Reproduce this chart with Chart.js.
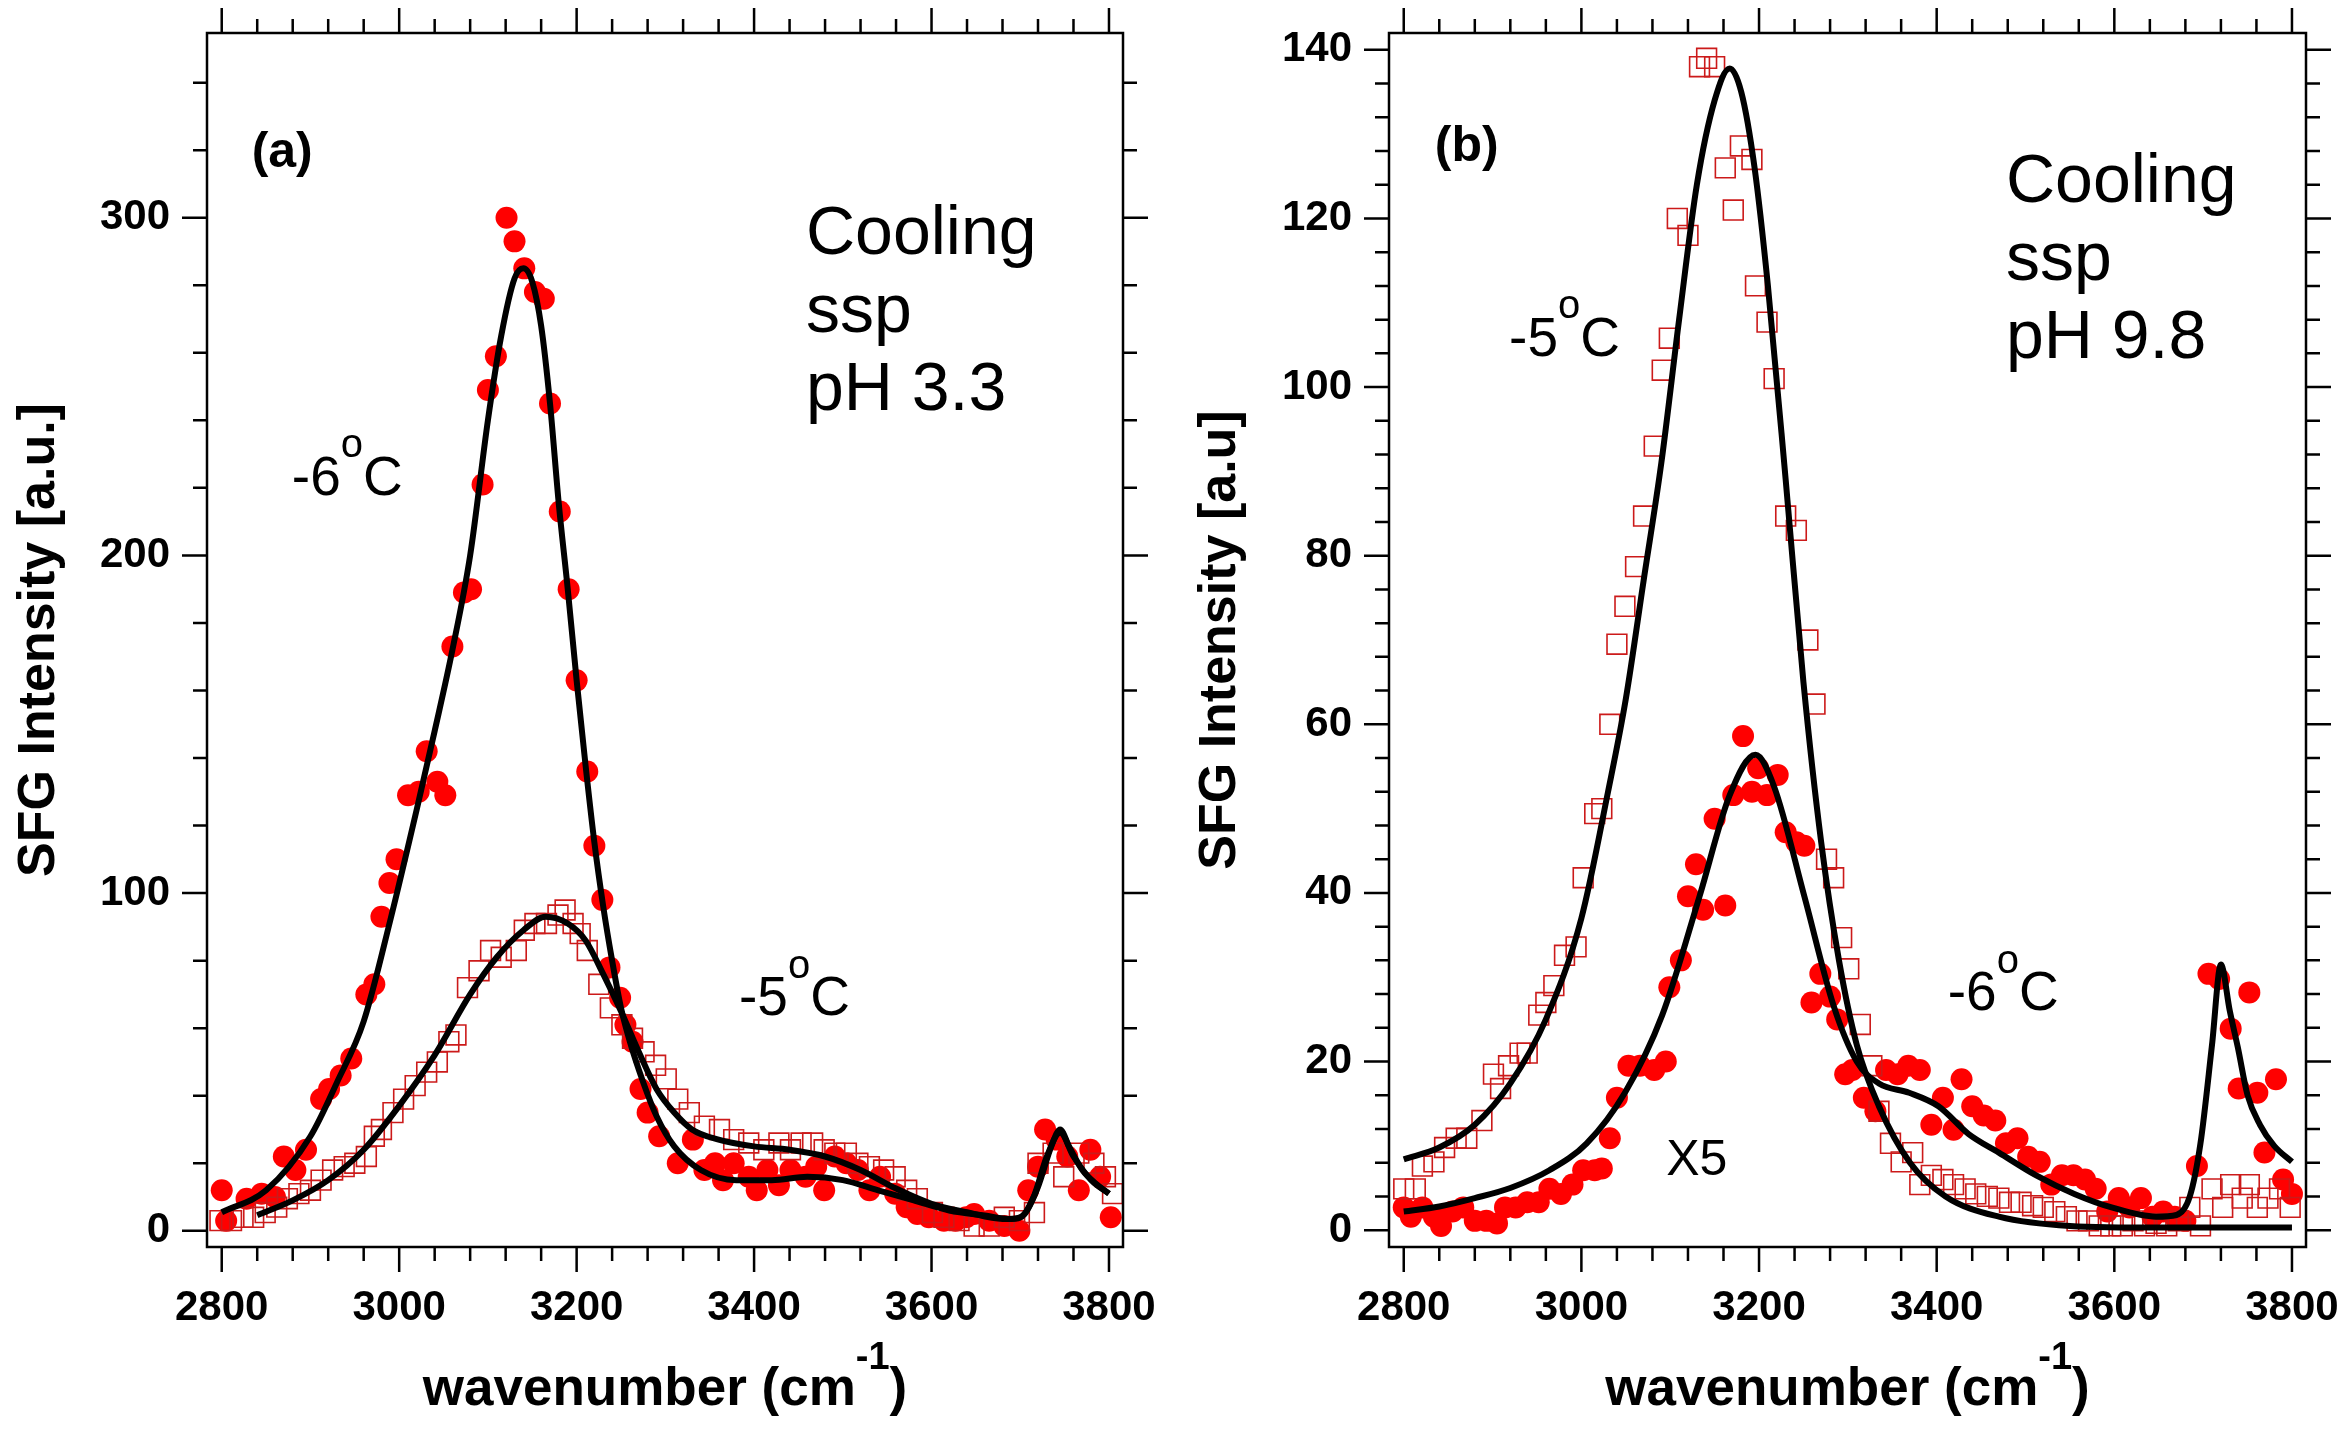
<!DOCTYPE html>
<html>
<head>
<meta charset="utf-8">
<title>SFG spectra on cooling</title>
<script src="https://cdn.jsdelivr.net/npm/chart.js@4.4.1/dist/chart.umd.min.js"></script>
<style>
  html, body { margin: 0; padding: 0; background: #fff; }
  #wrap { position: relative; width: 2348px; height: 1433px; }
  canvas { position: absolute; top: 0; }
  #chartA { left: 0; }
  #chartB { left: 1175px; }
</style>
</head>
<body>
<div id="wrap">
  <canvas id="chartA" width="1175" height="1433"></canvas>
  <canvas id="chartB" width="1173" height="1433"></canvas>
</div>
<script>
// tick labels
const xTicks = [2800, 3000, 3200, 3400, 3600, 3800];
const yTicksA = [0, 100, 200, 300];
const yTicksB = [0, 20, 40, 60, 80, 100, 120, 140];

// (a) pH 3.3 : -6C filled circles, -5C open squares, [wavenumber, intensity]
const a6Points = [
  [2800,12],[2805,3],[2828,9.5],[2845,11],[2860,10],[2870,22],[2883,18],[2895,24],[2912,39],[2921,42],
  [2934,46],[2946,51],[2963,70],[2972,73],[2980,93],[2989,103],[2997,110],[3010,129],[3022,130],[3031,142],
  [3043,133],[3052,129],[3060,173],[3073,189],[3081,190],[3094,221],[3100,249],[3109,259],[3121,300],[3130,293],
  [3141,285],[3153,278],[3163,276],[3170,245],[3181,213],[3191,190],[3200,163],[3212,136],[3220,114],[3229,98],
  [3237,78],[3249,69],[3255,61],[3263,56],[3272,42],[3280,35],[3293,28],[3314,20],[3331,27],[3344,18],
  [3356,20],[3365,15],[3377,20],[3394,16],[3403,12],[3415,18],[3428,13.5],[3441,18],[3458,16],[3470,19],
  [3479,12],[3491,22],[3504,20],[3517,18],[3530,12],[3542,16],[3559,11],[3572,7],[3584,5],[3597,4],
  [3614,3],[3627,3],[3639,4],[3648,5],[3665,3],[3682,1.4],[3699,0],[3709,12],[3720,19],[3728,30],
  [3741,27],[3753,22],[3766,12],[3779,24],[3790,16],[3802,4]
];
const a5Points = [
  [2798,3],[2811,3],[2824,4],[2836,4],[2849,5.4],[2862,7],[2874,9.5],[2887,11],[2900,12],[2912,15],
  [2925,18],[2938,19],[2950,20],[2963,22],[2972,28],[2980,30],[2993,35],[3005,39],[3018,43],[3031,47],
  [3043,50],[3056,56],[3064,58],[3077,72],[3090,77],[3103,83],[3115,81],[3132,83],[3141,89],[3153,91],
  [3166,91],[3179,93.5],[3187,95],[3196,91],[3204,88],[3212,83],[3225,73],[3238,66],[3251,61],[3263,57],
  [3276,53],[3289,49],[3301,45],[3314,39],[3327,35],[3344,31],[3361,30],[3377,27],[3394,26],[3411,24],
  [3428,26],[3441,24],[3453,26],[3466,26],[3479,24],[3491,23],[3504,23],[3517,20],[3530,19],[3546,18],
  [3559,16],[3572,12],[3584,9.5],[3601,5.4],[3614,4],[3631,3],[3648,1.4],[3665,1.4],[3682,4],[3699,3],
  [3716,5.4],[3720,20],[3737,23],[3749,16],[3766,23],[3783,20],[3796,16],[3804,11]
];
const a6Fit = [
  [2800,5.5],[2850,12],[2900,28],[2930,44],[2960,62],[2990,92],[3020,125],[3040,148],[3060,172],[3080,200],
  [3100,240],[3115,265],[3130,282],[3140,285],[3150,281],[3160,268],[3170,245],[3180,215],[3190,190],[3200,163],
  [3210,138],[3220,115],[3230,96],[3240,80],[3250,66],[3260,56],[3275,44],[3290,34],[3310,25],[3340,18],
  [3380,15],[3420,15],[3460,16],[3500,15],[3540,12],[3580,9],[3620,6],[3660,4.5],[3690,3.5],[3705,5],
  [3720,13],[3735,25],[3745,30],[3755,25],[3770,18],[3785,14],[3800,11]
];
const a5Fit = [
  [2840,4.6],[2880,9],[2920,15],[2960,24],[3000,37],[3040,52],[3080,70],[3110,81],[3140,89],[3165,93],
  [3190,91],[3210,86],[3230,76],[3250,65],[3270,53],[3290,42],[3310,35],[3330,30],[3360,27],[3400,25],
  [3440,24],[3480,22],[3520,18],[3560,12.5],[3600,8],[3640,5.5],[3680,3.5],[3700,4],[3715,10],[3730,22],
  [3745,29],[3760,22],[3780,15],[3800,11]
];

// (b) pH 9.8 : -5C open squares, -6C filled circles (x5)
const b5Points = [
  [2800,4.9],[2813,4.9],[2821,7.6],[2834,8.1],[2846,9.8],[2859,10.9],[2871,10.9],[2888,13],[2901,18.5],[2909,16.8],
  [2918,19.5],[2931,21],[2939,21],[2952,25.5],[2960,27],[2969,29],[2981,32.6],[2994,33.6],[3002,41.8],[3015,49.4],
  [3023,50],[3032,60],[3040,69.5],[3049,74],[3061,78.7],[3070,84.7],[3082,93],[3091,102],[3099,105.8],[3108,120],
  [3120,118],[3133,138],[3141,139],[3150,138],[3162,126],[3171,121],[3179,128.6],[3192,127],[3196,112],[3209,107.7],
  [3217,101],[3230,84.7],[3242,83],[3255,70],[3263,62.4],[3276,44],[3284,41.8],[3293,34.7],[3301,31],[3314,24.4],
  [3327,19.5],[3335,14.1],[3348,10.3],[3360,8.1],[3373,9.2],[3381,5.4],[3394,6.5],[3407,6],[3419,5.4],[3432,4.9],
  [3444,4.3],[3457,4],[3470,3.8],[3482,3.3],[3495,3.3],[3508,2.9],[3520,2.7],[3533,2.2],[3546,1.6],[3558,1.1],
  [3571,1.1],[3583,0.5],[3596,0.5],[3609,0.5],[3621,1.1],[3634,0.5],[3647,0.8],[3659,0.5],[3672,1.1],[3685,2.7],
  [3697,0.5],[3710,4.9],[3722,2.7],[3731,5.4],[3744,3.8],[3752,5.4],[3761,2.7],[3773,3.8],[3786,4.9],[3798,2.7]
];
const b6Points = [
  [2800,2.7],[2808,1.6],[2821,2.7],[2834,1.6],[2842,0.5],[2855,2.2],[2867,2.7],[2880,1.1],[2893,1.1],[2905,0.8],
  [2914,2.7],[2926,2.7],[2939,3.3],[2952,3.3],[2964,4.9],[2977,4.3],[2990,5.4],[3002,7.1],[3015,7.1],[3023,7.3],
  [3032,10.9],[3040,15.7],[3053,19.5],[3066,19.5],[3082,19],[3095,20],[3099,28.8],[3112,32],[3120,39.6],[3129,43.4],
  [3137,38],[3150,48.8],[3162,38.5],[3171,51.6],[3182,58.6],[3192,52],[3199,54.8],[3209,51.6],[3221,54],[3230,47.2],
  [3242,46],[3251,45.6],[3259,27],[3269,30.4],[3280,27.7],[3288,25],[3297,18.5],[3305,19],[3318,15.7],[3331,14.1],
  [3343,19],[3356,18.5],[3368,19.5],[3381,19],[3394,12.5],[3407,15.7],[3419,11.9],[3428,17.9],[3440,14.7],[3453,13.6],
  [3466,13],[3478,10.3],[3491,10.9],[3503,8.7],[3516,8.1],[3529,5.4],[3541,6.5],[3554,6.5],[3567,6],[3579,4.9],
  [3592,2.2],[3605,3.8],[3617,2.7],[3630,3.8],[3643,1.6],[3655,2.2],[3668,1.6],[3680,1.1],[3693,7.6],[3706,30.4],
  [3718,29.8],[3731,23.9],[3740,16.8],[3752,28.2],[3761,16.3],[3769,9.2],[3782,17.9],[3790,6],[3800,4.3]
];
const b5Fit = [
  [2800,8.4],[2840,9.8],[2880,12.5],[2920,17.4],[2960,25],[3000,37],[3030,52],[3050,63],[3070,77],[3090,91],
  [3110,108],[3130,124],[3150,134],[3167,137.8],[3180,135],[3195,126],[3210,112],[3230,89],[3250,65],[3270,46],
  [3290,32],[3310,22],[3335,14.7],[3370,8],[3410,4],[3470,1.6],[3550,0.5],[3650,0.3],[3800,0.3]
];
const b6Fit = [
  [2800,2.2],[2840,2.8],[2880,3.8],[2920,5],[2964,7.1],[3006,10.3],[3049,16.3],[3091,25.5],[3133,39.6],[3167,51.6],
  [3196,56.4],[3217,52.6],[3251,39.6],[3284,26.6],[3310,20],[3335,17.4],[3369,16.3],[3402,14.7],[3436,11.4],[3470,9.2],
  [3512,6.5],[3555,4.3],[3597,2.7],[3647,1.6],[3670,1.8],[3685,4],[3697,10.3],[3710,22],[3720,31.5],[3730,26],
  [3739,21.7],[3750,16],[3764,12.5],[3780,10],[3800,8.1]
];

// подписи на поле графика (позиции в единицах осей)
const notesA = [
  { x: 2833.7, y: 315, text: "(a)", size: 50, bold: true },
  { x: 3458.5, y: 289.2, lines: ["Cooling", "ssp", "pH 3.3"], size: 68 },
  { x: 2879, y: 218, text: "-6", sup: "o", after: "C", size: 55 },
  { x: 3383, y: 63.9, text: "-5", sup: "o", after: "C", size: 55 }
];
const notesB = [
  { x: 2835, y: 126.8, text: "(b)", size: 50, bold: true },
  { x: 3478, y: 121.9, lines: ["Cooling", "ssp", "pH 9.8"], size: 68 },
  { x: 2918.6, y: 103.7, text: "-5", sup: "o", after: "C", size: 55 },
  { x: 3412.5, y: 26.1, text: "-6", sup: "o", after: "C", size: 55 },
  { x: 3095.5, y: 6.5, text: "X5", size: 50 }
];

const FONT = "'Liberation Sans', Arial, sans-serif";
Chart.defaults.font.family = FONT;
Chart.defaults.color = "#000";

function toXY(arr) {
  return arr.map(([x, y]) => ({ x, y }));
}

// текст с верхним индексом
function drawRich(ctx, x, y, n, align) {
  const w = n.bold ? "bold " : "";
  const main = w + n.size + "px " + FONT;
  const supSize = Math.round(n.size * 0.72);
  const small = w + supSize + "px " + FONT;
  ctx.font = main;
  const w1 = ctx.measureText(n.text).width;
  const w3 = n.after ? ctx.measureText(n.after).width : 0;
  ctx.font = small;
  const w2 = n.sup ? ctx.measureText(n.sup).width : 0;
  let x0 = align === "center" ? x - (w1 + w2 + w3) / 2 : x;
  ctx.textAlign = "left";
  ctx.textBaseline = "alphabetic";
  ctx.font = main;
  ctx.fillText(n.text, x0, y);
  if (n.sup) {
    ctx.font = small;
    ctx.fillText(n.sup, x0 + w1, y - n.size * 0.68);
  }
  if (n.after) {
    ctx.font = main;
    ctx.fillText(n.after, x0 + w1 + w2, y);
  }
}

// рамка, мелкие и крупные риски со всех четырёх сторон, подписи
const framePlugin = {
  id: "frame",
  afterDraw(chart, args, opts) {
    const { ctx, chartArea: ca } = chart;
    const sx = chart.scales.x, sy = chart.scales.y;
    ctx.save();
    ctx.strokeStyle = "#000";
    ctx.lineWidth = 2.5;
    ctx.beginPath();
    for (let v = 2800; v <= 3800; v += 40) {
      const px = sx.getPixelForValue(v);
      const len = v % 200 === 0 ? 25 : 14;
      ctx.moveTo(px, ca.bottom); ctx.lineTo(px, ca.bottom + len);
      ctx.moveTo(px, ca.top); ctx.lineTo(px, ca.top - len);
    }
    for (let v = 0; v <= sy.max; v += opts.yMinor) {
      const py = sy.getPixelForValue(v);
      const len = v % opts.yMajor === 0 ? 25 : 14;
      ctx.moveTo(ca.left, py); ctx.lineTo(ca.left - len, py);
      ctx.moveTo(ca.right, py); ctx.lineTo(ca.right + len, py);
    }
    ctx.stroke();
    ctx.strokeRect(ca.left, ca.top, ca.right - ca.left, ca.bottom - ca.top);

    ctx.fillStyle = "#000";
    opts.notes.forEach((n) => {
      const px = sx.getPixelForValue(n.x);
      const py = sy.getPixelForValue(n.y);
      if (n.lines) {
        ctx.font = n.size + "px " + FONT;
        ctx.textAlign = "left";
        ctx.textBaseline = "alphabetic";
        n.lines.forEach((t, i) => ctx.fillText(t, px, py + i * 78));
      } else {
        drawRich(ctx, px, py, n, "left");
      }
    });
    // подпись оси X
    drawRich(ctx, (ca.left + ca.right) / 2, 1405,
      { text: "wavenumber (cm", sup: "-1", after: ")", size: 53, bold: true }, "center");
    ctx.restore();
  }
};

function makePanel(id, p) {
  return new Chart(document.getElementById(id), {
    type: "scatter",
    data: {
      datasets: [
        { data: toXY(p.fit1), showLine: true, pointRadius: 0, borderColor: "#000",
          borderWidth: 6, cubicInterpolationMode: "monotone", order: 0 },
        { data: toXY(p.fit2), showLine: true, pointRadius: 0, borderColor: "#000",
          borderWidth: 6, cubicInterpolationMode: "monotone", order: 0 },
        { data: toXY(p.squares), pointStyle: "rect", pointRadius: 14,
          backgroundColor: "rgba(0,0,0,0)", borderColor: "#cc1a1a", borderWidth: 1.6, order: 1 },
        { data: toXY(p.circles), pointStyle: "circle", pointRadius: 11,
          backgroundColor: "#ff0000", borderWidth: 0, order: 2 }
      ]
    },
    options: {
      responsive: false,
      animation: false,
      devicePixelRatio: 1,
      events: [],
      layout: { padding: { left: 0, top: 33, right: p.padRight, bottom: 0 } },
      plugins: {
        legend: { display: false },
        tooltip: { enabled: false },
        frame: { notes: p.notes, yMinor: p.yMinor, yMajor: p.yMajor }
      },
      scales: {
        x: {
          type: "linear",
          min: 2783.4,
          max: 3815.8,
          grid: { display: false, drawTicks: false },
          border: { display: false },
          afterBuildTicks: (s) => { s.ticks = xTicks.map((v) => ({ value: v })); },
          afterFit: (s) => { s.height = 186; s.paddingLeft = 0; s.paddingRight = 0; },
          ticks: {
            padding: 36, autoSkip: false, maxRotation: 0,
            font: { size: 42, weight: "bold" },
            callback: (v) => String(v)
          }
        },
        y: {
          type: "linear",
          min: p.yMin,
          max: p.yMax,
          grid: { display: false, drawTicks: false },
          border: { display: false },
          afterBuildTicks: (s) => { s.ticks = p.yTicks.map((v) => ({ value: v })); },
          afterFit: (s) => { s.width = p.yWidth; s.paddingTop = 0; s.paddingBottom = 0; },
          ticks: {
            padding: 37, autoSkip: false,
            font: { size: 42, weight: "bold" },
            callback: (v) => String(v)
          },
          title: {
            display: true,
            text: p.yTitle,
            font: { size: 52, weight: "bold" },
            padding: { top: p.titlePad, bottom: 0 }
          }
        }
      }
    },
    plugins: [framePlugin]
  });
}

makePanel("chartA", {
  circles: a6Points, squares: a5Points, fit1: a6Fit, fit2: a5Fit,
  yTicks: yTicksA, yMin: -4.8, yMax: 354.7, yMinor: 20, yMajor: 100,
  yWidth: 207, padRight: 52, titlePad: 8,
  yTitle: "SFG Intensity [a.u.]", notes: notesA
});
makePanel("chartB", {
  circles: b6Points, squares: b5Points, fit1: b5Fit, fit2: b6Fit,
  yTicks: yTicksB, yMin: -2.0, yMax: 142.0, yMinor: 4, yMajor: 20,
  yWidth: 214, padRight: 42, titlePad: 14,
  yTitle: "SFG Intensity [a.u]", notes: notesB
});
</script>
</body>
</html>
